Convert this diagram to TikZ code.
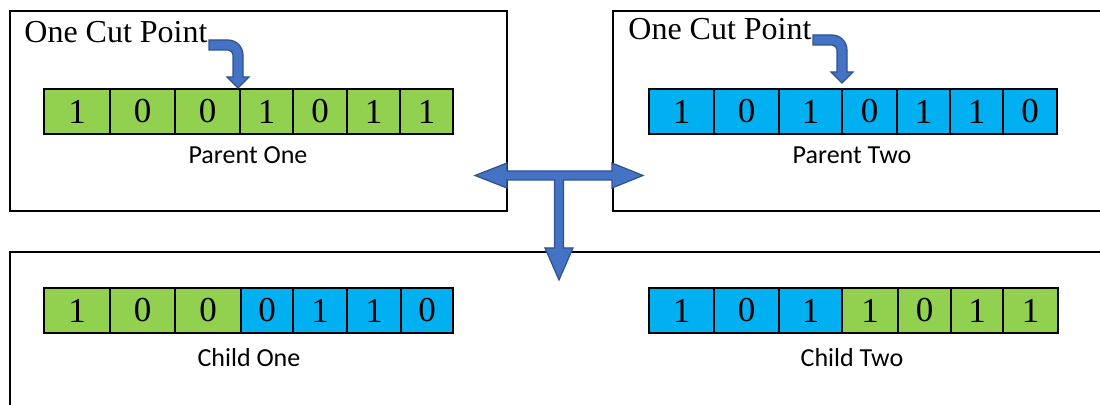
\documentclass[tikz,border=0pt]{standalone}
\usepackage{fontspec}
\setmainfont{Liberation Serif}
\newfontfamily\calibri{Carlito}
\usepackage{tikz}
\usetikzlibrary{positioning}

\definecolor{genegreen}{HTML}{92D050}
\definecolor{geneblue}{HTML}{00B0F0}
\definecolor{arrowfill}{HTML}{4472C4}
\definecolor{arrowline}{HTML}{2F528F}

\tikzset{
  panel/.style={draw=black, line width=1pt},
  gene/.style={draw=black, line width=1pt, minimum height=22.5pt, inner sep=0pt,
    font=\fontsize{17.5}{19}\selectfont},
  caption/.style={font=\calibri\fontsize{13}{15}\selectfont, inner sep=0pt},
  cutlabel/.style={font=\fontsize{16}{18}\selectfont, inner sep=0pt, anchor=base west},
  blockarrow/.style={fill=arrowfill, draw=arrowline, line width=0.6pt, line join=miter},
}

% one chromosome: name prefix, top edge, cells as left/right/bit/colour
\newcommand{\chromosome}[3]{%
  \foreach \lx/\rx/\bit/\col [count=\i] in {#3}
    \node[gene, fill=\col, minimum width={(\rx-\lx)*0.5pt}] (#1\i)
      at ({(\lx+\rx)/2},{#2+22.5}) {\bit};
}

\begin{document}
\begin{tikzpicture}[x=0.5pt, y=-0.5pt]
\useasboundingbox (0,0) rectangle (1100,405);
\clip (0,0) rectangle (1100,405);

% frames
\draw[panel] (10,11) rectangle (507,211);
\draw[panel] (613,11) rectangle (1110,211);
\draw[panel] (10,252) rectangle (1110,420);

% parents
\chromosome{pa}{89}{44/110/1/genegreen, 110/175/0/genegreen, 175/240/0/genegreen,
  240/293/1/genegreen, 293/347/0/genegreen, 347/400/1/genegreen, 400/453/1/genegreen}
\chromosome{pb}{89}{649/714/1/geneblue, 714/779/0/geneblue, 779/842/1/geneblue,
  842/897/0/geneblue, 897/950/1/geneblue, 950/1003/1/geneblue, 1003/1057/0/geneblue}
\node[caption] (parentone) at (248,155) {Parent One};
\node[caption] (parenttwo) at (852,155) {Parent Two};

% children
\chromosome{ca}{288}{44/110/1/genegreen, 110/175/0/genegreen, 175/241/0/genegreen,
  241/293/0/geneblue, 293/347/1/geneblue, 347/401/1/geneblue, 401/453/0/geneblue}
\chromosome{cb}{288}{649/714/1/geneblue, 714/779/0/geneblue, 779/842/1/geneblue,
  842/898/1/genegreen, 898/951/0/genegreen, 951/1003/1/genegreen, 1003/1058/1/genegreen}
\node[caption] (childone) at (249,358) {Child One};
\node[caption] (childtwo) at (852,358) {Child Two};

% cut points
\node[cutlabel] (cutone) at (24,43) {One Cut Point};
\node[cutlabel] (cuttwo) at (628,40) {One Cut Point};
\foreach \dx/\dy in {0/0, 604/-5}
  \draw[blockarrow, shift={(\dx,\dy)}] (209,40) -- (228,40)
    .. controls (236.3,40) and (243,46.7) .. (243,55) -- (243,77) -- (249,77)
    -- (238,88) -- (227,77) -- (233,77) -- (233,55)
    .. controls (233,52.2) and (230.8,50) .. (228,50) -- (209,50) -- cycle;

% crossover arrow
\draw[blockarrow] (475,175.5) -- (507,163) -- (507,171) -- (612,171) -- (612,163)
  -- (643,175.5) -- (612,188) -- (612,180) -- (563.5,180) -- (563.5,248)
  -- (573,248) -- (559,280) -- (545,248) -- (554.5,248) -- (554.5,180)
  -- (507,180) -- (507,188) -- cycle;
\end{tikzpicture}
\end{document}
